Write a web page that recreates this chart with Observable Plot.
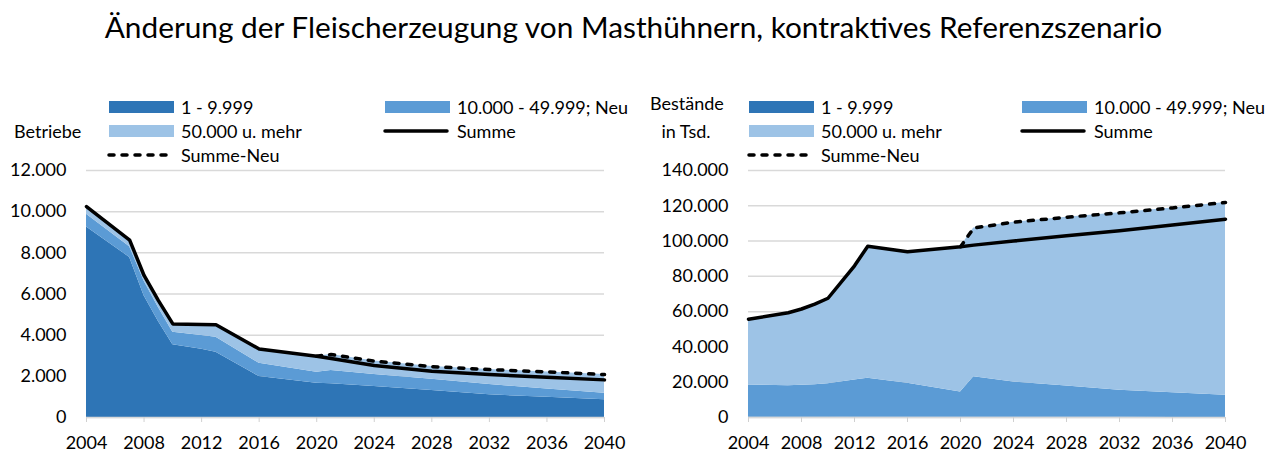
<!DOCTYPE html>
<html><head><meta charset="utf-8">
<script src="https://cdn.jsdelivr.net/npm/d3@7"></script>
<script src="https://cdn.jsdelivr.net/npm/@observablehq/plot@0.6"></script>
<style>
body{margin:0;background:#fff;font-family:Lato,"Noto Sans",sans-serif;color:#000}
#wrap{position:relative;width:1267px;height:453px;overflow:hidden;background:#fff}
.abs{position:absolute;white-space:nowrap}
#title{left:0;width:1267px;top:10px;text-align:center;font-size:28px;line-height:1.2}
.lt{font-size:18px;line-height:20px}
.sw{position:absolute;width:65px;height:12px}
svg.chart{position:absolute;top:150px}
</style></head>
<body><div id="wrap">
<div id="title" class="abs"><span id="tspan">Änderung der Fleischerzeugung von Masthühnern, kontraktives Referenzszenario</span></div>
</div>
<script>
// ---- data ----
const years = [2004, 2007, 2008, 2009, 2010, 2012, 2013, 2016, 2020, 2021, 2024, 2028, 2032, 2036, 2040];
const seriesNames = ["1 - 9.999", "10.000 - 49.999; Neu", "50.000 u. mehr"];
const lineNames = ["Summe", "Summe-Neu"];
const neuYears = [2020, 2021, 2024, 2028, 2032, 2036, 2040];
const xTicks = [2004, 2008, 2012, 2016, 2020, 2024, 2028, 2032, 2036, 2040];

// Betriebe (left)
const betriebeKlein  = [9260, 7775, 5920, 4670, 3540, 3320, 3170, 1990, 1665, 1634, 1503, 1310, 1100, 985, 858];
const betriebeMittel = [620, 525, 710, 680, 600, 660, 725, 645, 532, 646, 582, 548, 500, 405, 322];
const betriebeGross  = [370, 320, 270, 330, 405, 540, 615, 695, 783, 780, 655, 616, 728, 826, 905];
const betriebeSumme  = [10250, 8620, 6900, 5680, 4545, 4520, 4510, 3330, 2980, 2870, 2522, 2246, 2085, 1955, 1828];
const betriebeSummeNeu = [2980, 3060, 2740, 2474, 2328, 2216, 2085];
const betriebeYTicks = [0, 2000, 4000, 6000, 8000, 10000, 12000];

// Bestände in Tsd. (right)
const bestandKlein  = [300, 250, 240, 230, 220, 200, 190, 150, 120, 110, 100, 90, 80, 70, 60];
const bestandMittel = [18100, 17700, 18000, 18300, 18850, 21000, 22100, 19250, 14300, 23000, 20000, 17700, 15400, 13900, 12600];
const bestandGross  = [37300, 41450, 43260, 45770, 48530, 64800, 74810, 74500, 82380, 84290, 90600, 95710, 100520, 104830, 109240];
const bestandSumme  = [55700, 59400, 61500, 64300, 67600, 86000, 97100, 93900, 96800, 97700, 100000, 103000, 105900, 109100, 112400];
const bestandSummeNeu = [96800, 107400, 110700, 113500, 116000, 118800, 121900];
const bestandYTicks = [0, 20000, 40000, 60000, 80000, 100000, 120000, 140000];

const colors = ["#2e75b6", "#5b9bd5", "#9dc3e6"];

// ---- helpers ----
const fmt = n => d3.format(",")(n).replace(/,/g, ".");
function stackRows(a, b, c) {
  const rows = [];
  years.forEach((y, i) => {
    rows.push({year: y, series: seriesNames[0], value: a[i]});
    rows.push({year: y, series: seriesNames[1], value: b[i]});
    rows.push({year: y, series: seriesNames[2], value: c[i]});
  });
  return rows;
}
function chart({rows, sum, neu, yTicks, width, marginLeft, marginRight, left}) {
  const sumRows = years.map((y, i) => ({year: y, value: sum[i]}));
  const neuRows = neuYears.map((y, i) => ({year: y, value: neu[i]}));
  const svg = Plot.plot({
    width, height: 303,
    marginTop: 20, marginBottom: 36, marginLeft, marginRight,
    style: {fontFamily: "Lato, 'Noto Sans', sans-serif", fontSize: "18px", color: "#000", background: "transparent", overflow: "visible"},
    x: {domain: [2004, 2040]},
    y: {domain: [0, yTicks[yTicks.length - 1]]},
    color: {domain: seriesNames, range: colors},
    marks: [
      Plot.gridY(yTicks, {stroke: "#d9d9d9", strokeOpacity: 1, strokeWidth: 1.5}),
      Plot.areaY(rows, {x: "year", y: "value", z: "series", fill: "series", order: seriesNames, fillOpacity: 1}),
      Plot.line(neuRows, {x: "year", y: "value", stroke: "#000", strokeWidth: 3.5, strokeDasharray: "5,8", strokeLinecap: "round", strokeLinejoin: "round"}),
      Plot.line(sumRows, {x: "year", y: "value", stroke: "#000", strokeWidth: 3.5, strokeLinejoin: "round"}),
      Plot.ruleY([0], {stroke: "#d9d9d9", strokeWidth: 1.5}),
      Plot.axisX(xTicks, {tickFormat: d => String(d), tickSize: 5, tickPadding: 14, stroke: "#d0d0d0", fill: "#000", label: null}),
      Plot.axisY(yTicks, {tickFormat: fmt, tickSize: 0, tickPadding: 20, fill: "#000", label: null})
    ]
  });
  svg.classList.add("chart");
  svg.style.left = left + "px";
  document.getElementById("wrap").appendChild(svg);
}

chart({rows: stackRows(betriebeKlein, betriebeMittel, betriebeGross), sum: betriebeSumme, neu: betriebeSummeNeu,
       yTicks: betriebeYTicks, width: 640, marginLeft: 86, marginRight: 36, left: 0});
chart({rows: stackRows(bestandKlein, bestandMittel, bestandGross), sum: bestandSumme, neu: bestandSummeNeu,
       yTicks: bestandYTicks, width: 627, marginLeft: 108, marginRight: 42, left: 640});

// ---- legends ----
const wrap = document.getElementById("wrap");
function addText(txt, x, cy, extra) {
  const d = document.createElement("div");
  d.className = "abs lt";
  d.textContent = txt;
  d.style.left = x + "px";
  d.style.top = (cy - 10) + "px";
  if (extra) Object.assign(d.style, extra);
  wrap.appendChild(d);
  return d;
}
function addSwatch(color, x, cy) {
  const d = document.createElement("div");
  d.className = "sw";
  d.style.background = color;
  d.style.left = x + "px";
  d.style.top = (cy - 6) + "px";
  wrap.appendChild(d);
}
function addLineSym(x, cy, dashed) {
  const ns = "http://www.w3.org/2000/svg";
  const s = document.createElementNS(ns, "svg");
  s.setAttribute("width", 68); s.setAttribute("height", 12);
  s.style.position = "absolute"; s.style.left = x + "px"; s.style.top = (cy - 6) + "px";
  const l = document.createElementNS(ns, "line");
  l.setAttribute("x1", 2); l.setAttribute("x2", 64); l.setAttribute("y1", 6); l.setAttribute("y2", 6);
  l.setAttribute("stroke", "#000"); l.setAttribute("stroke-width", 3.5);
  l.setAttribute("stroke-linecap", "round");
  if (dashed) l.setAttribute("stroke-dasharray", "5,8");
  s.appendChild(l);
  wrap.appendChild(s);
}
function legend(x1, x2, textGap) {
  const rows = [107, 131, 155];
  addSwatch(colors[0], x1, rows[0]); addText(seriesNames[0], x1 + textGap, rows[0]);
  addSwatch(colors[1], x2, rows[0]); addText(seriesNames[1], x2 + textGap, rows[0]);
  addSwatch(colors[2], x1, rows[1]); addText(seriesNames[2], x1 + textGap, rows[1]);
  addLineSym(x2 - 2, rows[1], false); addText(lineNames[0], x2 + textGap, rows[1]);
  addLineSym(x1 - 2, rows[2], true); addText(lineNames[1], x1 + textGap, rows[2]);
}
legend(109, 385, 72);
legend(749, 1022, 72);
addText("Betriebe", 14, 131);
addText("Bestände", 650, 103, {width: "72px", textAlign: "center"});
addText("in Tsd.", 650, 131, {width: "72px", textAlign: "center"});

// fit title width
const ts = document.getElementById("tspan");
const w = ts.getBoundingClientRect().width;
const fs = 28 * 1058 / w;
document.getElementById("title").style.fontSize = fs + "px";
document.getElementById("title").style.top = (38.3 - 0.987 * fs) + "px";
</script>
</body></html>
